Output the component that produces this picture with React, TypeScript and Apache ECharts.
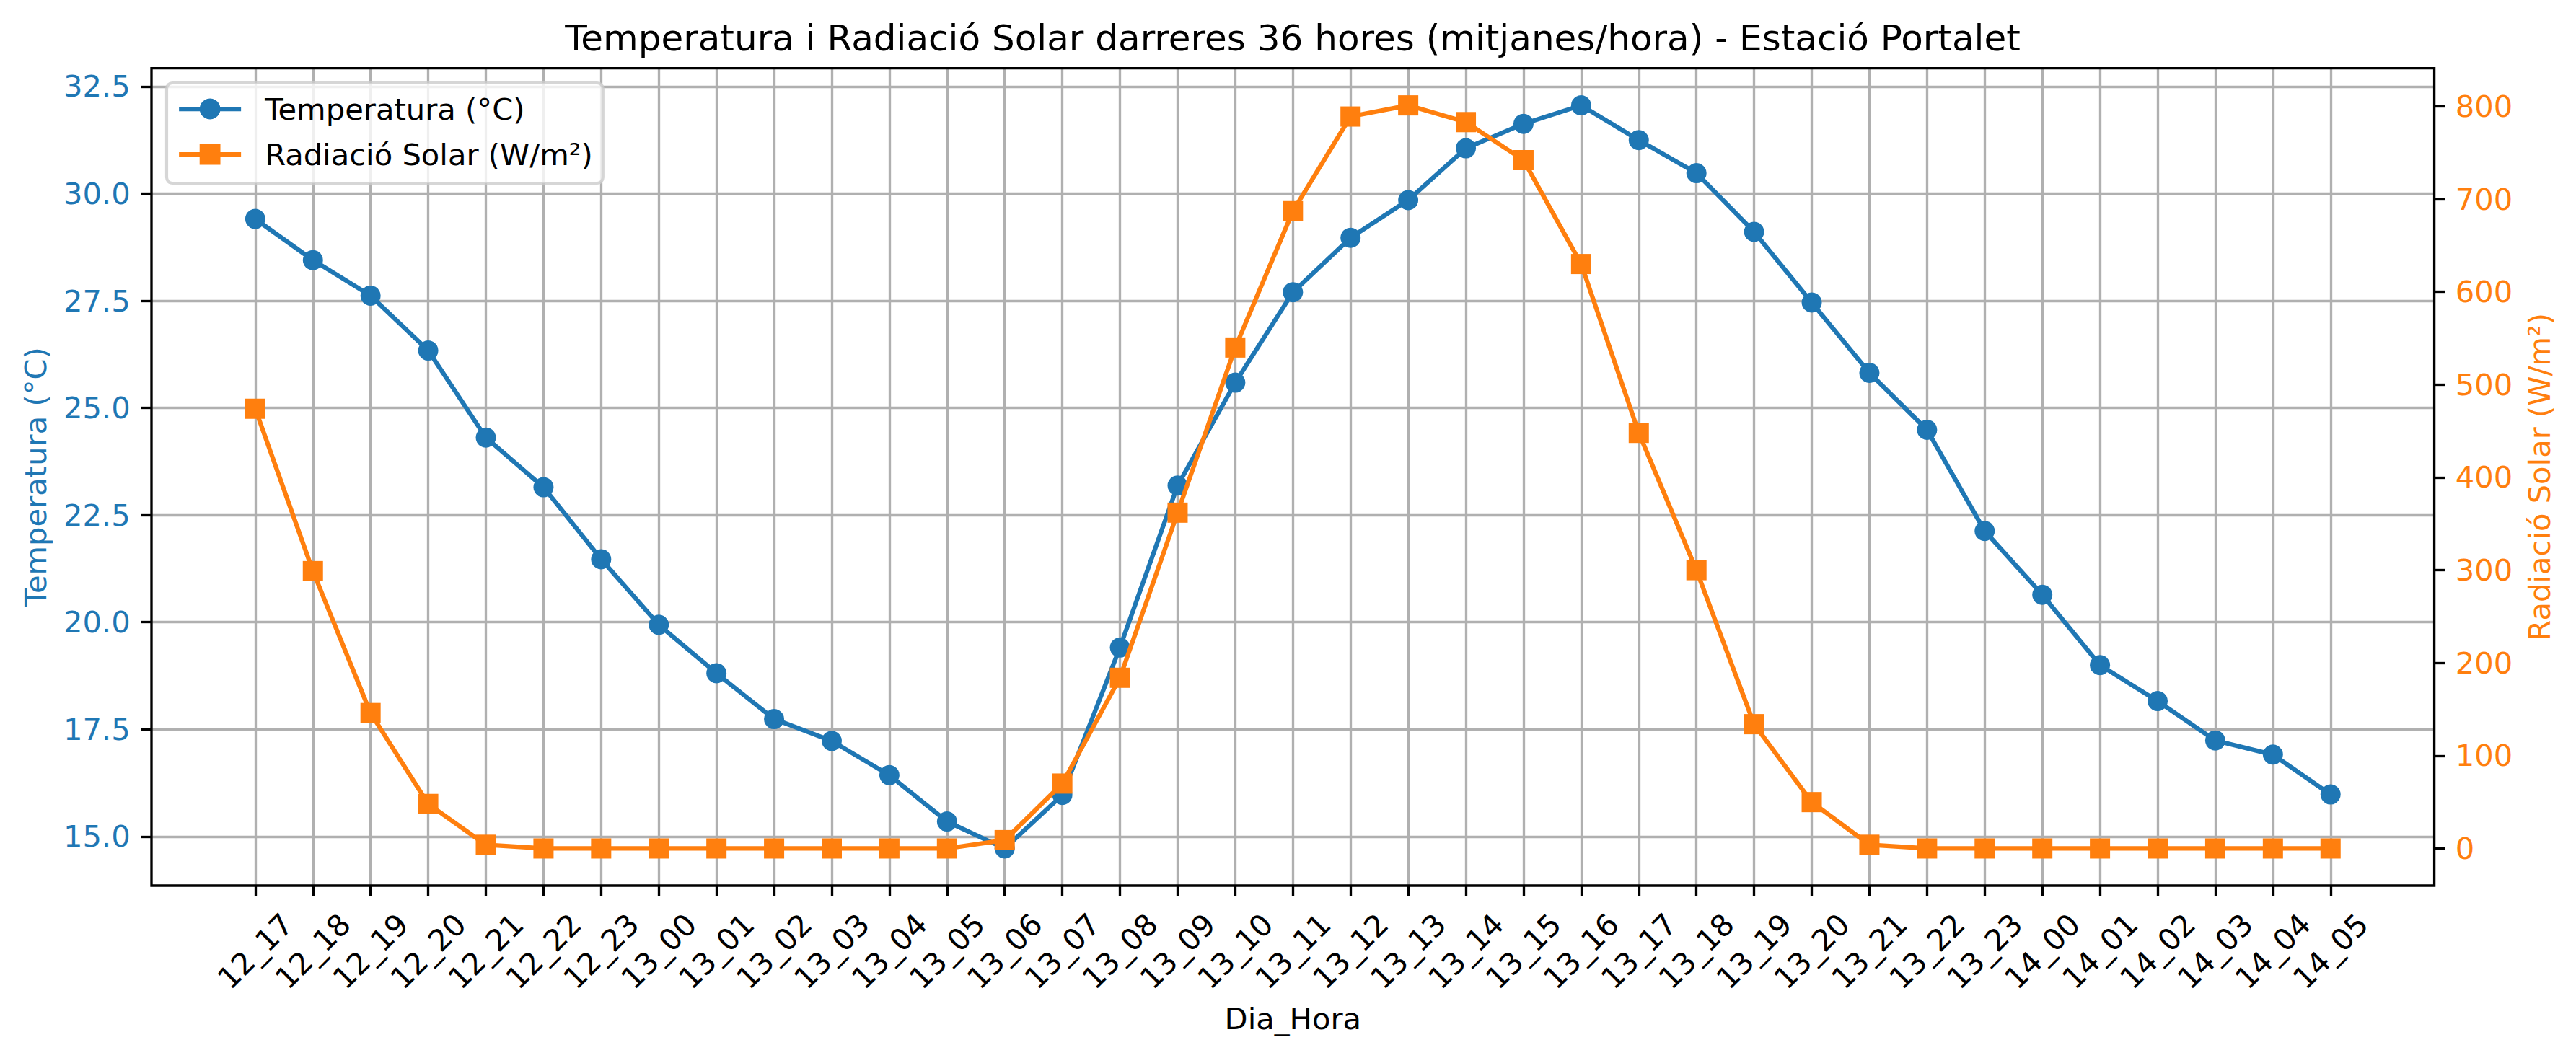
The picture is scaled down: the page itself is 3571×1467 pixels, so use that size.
import React, { useEffect, useRef } from "react";
import * as echarts from "echarts";

// Hourly labels (day_hour) for the last 36 hours
const hours = [
  "12_17", "12_18", "12_19", "12_20", "12_21", "12_22", "12_23",
  "13_00", "13_01", "13_02", "13_03", "13_04", "13_05", "13_06", "13_07",
  "13_08", "13_09", "13_10", "13_11", "13_12", "13_13", "13_14", "13_15",
  "13_16", "13_17", "13_18", "13_19", "13_20", "13_21", "13_22", "13_23",
  "14_00", "14_01", "14_02", "14_03", "14_04", "14_05",
];

// Hourly mean temperature (°C)
const temperature = [
  29.41, 28.45, 27.62, 26.34, 24.31, 23.15, 21.47,
  19.94, 18.81, 17.74, 17.23, 16.43, 15.35, 14.72, 15.97,
  19.41, 23.19, 25.59, 27.7, 28.97, 29.85, 31.06, 31.63,
  32.06, 31.25, 30.48, 29.11, 27.46, 25.82, 24.49, 22.13,
  20.64, 19.0, 18.16, 17.24, 16.91, 15.98,
];

// Hourly mean solar radiation (W/m²)
const radiation = [
  474, 299, 146, 48, 4, 0, 0,
  0, 0, 0, 0, 0, 0, 9, 70,
  184, 362, 540, 687, 789, 801, 783, 742,
  630, 448, 300, 134, 50, 4, 0, 0,
  0, 0, 0, 0, 0, 0,
];

// Tick positions of the two value axes
const tempTicks = [15, 17.5, 20, 22.5, 25, 27.5, 30, 32.5];
const radTicks = [0, 100, 200, 300, 400, 500, 600, 700, 800];

const BLUE = "#1f77b4";
const ORANGE = "#ff7f0e";
const FONT = "DejaVu Sans";
const FS = 41.67;
const GRID_COLOR = "#b0b0b0";

// Axis extent with a 5% margin on both sides of the data
function padded(values: number[], frac = 0.05): [number, number] {
  const lo = Math.min(...values);
  const hi = Math.max(...values);
  const p = (hi - lo) * frac;
  return [lo - p, hi + p];
}

export default function App() {
  const ref = useRef<HTMLDivElement>(null);

  useEffect(() => {
    document.body.style.margin = "0";
    const chart = echarts.init(ref.current!, null, { renderer: "svg" });

    const idx = hours.map((_, i) => i);
    const [tMin, tMax] = padded(temperature);
    const [rMin, rMax] = padded(radiation);
    const [xMin, xMax] = padded(idx);

    const tick = {
      show: true,
      inside: false,
      length: 14.6,
      lineStyle: { color: "#000", width: 3.33 },
    };
    // Spines come from the grid border; axes stay on the grid edges
    const hiddenLine = { show: false, onZero: false };

    chart.setOption({
      animation: false,
      backgroundColor: "#ffffff",
      textStyle: { fontFamily: FONT },
      title: {
        text: "Temperatura i Radiació Solar darreres 36 hores (mitjanes/hora) - Estació Portalet",
        left: 1792,
        top: 28,
        textAlign: "center",
        padding: 0,
        textStyle: {
          fontFamily: FONT,
          fontSize: 50,
          lineHeight: 50,
          fontWeight: "normal",
          color: "#000",
        },
      },
      legend: {
        orient: "vertical",
        left: 231,
        top: 115,
        padding: [11, 14, 15, 14],
        itemWidth: 86,
        itemHeight: 36,
        itemGap: 13,
        backgroundColor: "rgba(255,255,255,0.8)",
        borderColor: "rgba(204,204,204,0.8)",
        borderWidth: 4.17,
        borderRadius: 8,
        lineStyle: { width: 6.25 },
        textStyle: {
          fontFamily: FONT,
          fontSize: FS,
          lineHeight: 50,
          color: "#000",
          padding: [0, 0, 0, 28],
        },
        data: ["Temperatura (°C)", "Radiació Solar (W/m²)"],
        z: 10,
      },
      grid: {
        left: 210,
        right: 196.4,
        top: 94.6,
        bottom: 239,
        show: true,
        z: 1,
        backgroundColor: "transparent",
        borderColor: "#000",
        borderWidth: 3.33,
        outerBoundsMode: "none",
        containLabel: false,
      },
      xAxis: {
        type: "value",
        position: "bottom",
        min: xMin,
        max: xMax,
        name: "Dia_Hora",
        nameLocation: "middle",
        nameGap: 184,
        nameTextStyle: {
          fontFamily: FONT,
          fontSize: FS,
          color: "#000",
          verticalAlign: "middle",
        },
        axisLine: hiddenLine,
        axisTick: { ...tick, customValues: idx },
        axisLabel: {
          customValues: idx,
          formatter: (v: number) => hours[Math.round(v)] ?? "",
          rotate: 45,
          align: "center",
          verticalAlign: "middle",
          margin: 91,
          fontFamily: FONT,
          fontSize: FS,
          color: "#000",
        },
        splitLine: { show: true, lineStyle: { color: GRID_COLOR, width: 3.33 } },
      },
      yAxis: [
        {
          type: "value",
          position: "left",
          min: tMin,
          max: tMax,
          name: "Temperatura (°C)",
          nameLocation: "middle",
          nameRotate: 90,
          nameGap: 160.6,
          nameTextStyle: {
            fontFamily: FONT,
            fontSize: FS,
            color: BLUE,
            align: "center",
            verticalAlign: "middle",
          },
          axisLine: hiddenLine,
          axisTick: { ...tick, customValues: tempTicks },
          axisLabel: {
            customValues: tempTicks,
            formatter: (v: number) => v.toFixed(1),
            margin: 29.2,
            fontFamily: FONT,
            fontSize: FS,
            color: BLUE,
          },
          splitLine: { show: true, lineStyle: { color: GRID_COLOR, width: 3.33 } },
        },
        {
          type: "value",
          position: "right",
          min: rMin,
          max: rMax,
          name: "Radiació Solar (W/m²)",
          nameLocation: "middle",
          nameRotate: 90,
          nameGap: 146,
          nameTextStyle: {
            fontFamily: FONT,
            fontSize: FS,
            color: ORANGE,
            align: "center",
            verticalAlign: "middle",
          },
          axisLine: hiddenLine,
          axisTick: { ...tick, customValues: radTicks },
          axisLabel: {
            customValues: radTicks,
            formatter: (v: number) => String(Math.round(v)),
            margin: 29.2,
            fontFamily: FONT,
            fontSize: FS,
            color: ORANGE,
          },
          splitLine: { show: false },
        },
      ],
      series: [
        {
          name: "Temperatura (°C)",
          type: "line",
          yAxisIndex: 0,
          data: idx.map((i) => [i, temperature[i]]),
          symbol: "circle",
          symbolSize: 28,
          showAllSymbol: true,
          lineStyle: { color: BLUE, width: 6.25, join: "round" },
          itemStyle: { color: BLUE },
          z: 2,
        },
        {
          name: "Radiació Solar (W/m²)",
          type: "line",
          yAxisIndex: 1,
          data: idx.map((i) => [i, radiation[i]]),
          symbol: "rect",
          symbolSize: 28,
          showAllSymbol: true,
          lineStyle: { color: ORANGE, width: 6.25, join: "round" },
          itemStyle: { color: ORANGE },
          z: 3,
        },
      ],
    });

    return () => chart.dispose();
  }, []);

  return <div ref={ref} style={{ width: 3571, height: 1467 }} />;
}
